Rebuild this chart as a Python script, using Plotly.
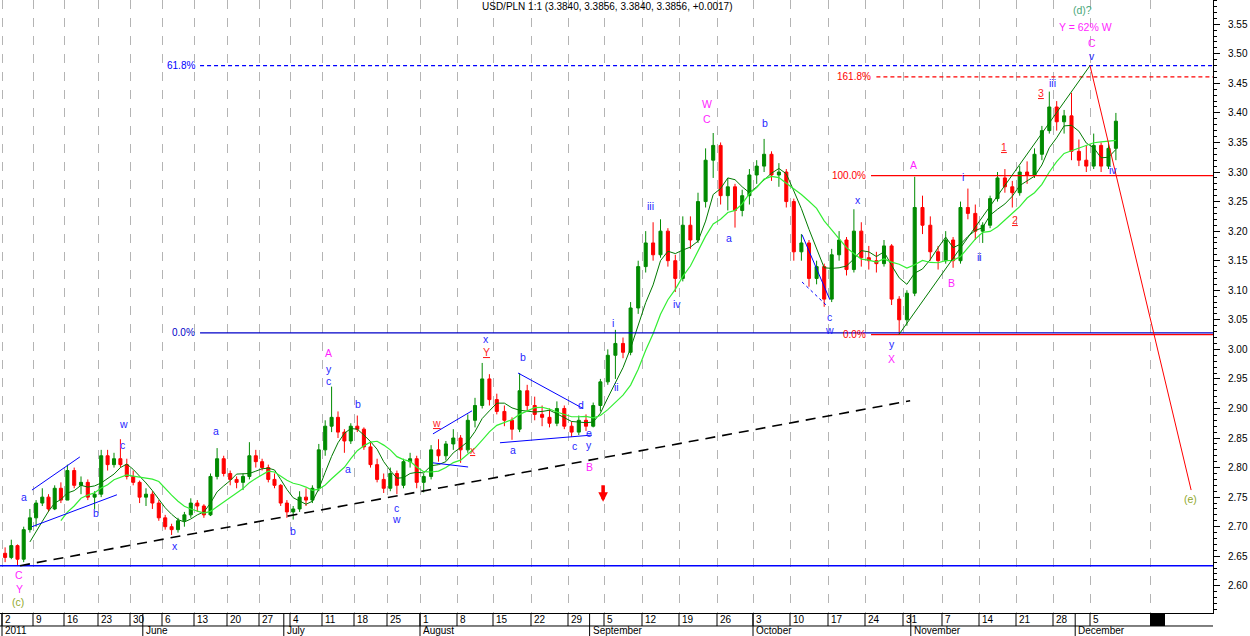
import pandas as pd
import plotly.graph_objects as go

# ---------------- data ----------------
week_mondays = ["2011-05-02", "2011-05-09", "2011-05-16", "2011-05-23", "2011-05-30",
                "2011-06-06", "2011-06-13", "2011-06-20", "2011-06-27", "2011-07-04",
                "2011-07-11", "2011-07-18", "2011-07-25", "2011-08-01", "2011-08-08",
                "2011-08-15", "2011-08-22", "2011-08-29", "2011-09-05", "2011-09-12",
                "2011-09-19", "2011-09-26", "2011-10-03", "2011-10-10", "2011-10-17",
                "2011-10-24", "2011-10-31", "2011-11-07", "2011-11-14", "2011-11-21",
                "2011-11-28", "2011-12-05"]
week_labels = ["2", "9", "16", "23", "30", "6", "13", "20", "27", "4", "11", "18", "25",
               "1", "8", "15", "22", "29", "5", "12", "19", "26", "3", "10", "17", "24",
               "31", "7", "14", "21", "28", "5"]
# intraday bars recorded per week (sets the width of each week on the bar axis)
bars_per_week = [31, 31, 34, 32, 32, 32, 33, 32, 31, 32, 32, 33, 33, 37, 36, 38, 37, 36,
                 38, 37, 38, 36, 37, 38, 37, 38, 39, 37, 37, 37, 37, 37]
month_starts = ["2011-05-02", "2011-06-01", "2011-07-01", "2011-08-01", "2011-09-01",
                "2011-10-03", "2011-11-01", "2011-12-01"]
month_labels = ["2011", "June", "July", "August", "September", "October", "November", "December"]

opens = [2.655, 2.648, 2.668, 2.645, 2.695, 2.715, 2.740, 2.750, 2.730, 2.765,
         2.745, 2.795, 2.770, 2.775, 2.750, 2.755, 2.820, 2.805, 2.815, 2.805,
         2.785, 2.775, 2.750, 2.755, 2.740, 2.715, 2.700, 2.695, 2.710, 2.720,
         2.740, 2.735, 2.720, 2.785, 2.815, 2.790, 2.780, 2.775, 2.785, 2.820,
         2.810, 2.800, 2.780, 2.770, 2.740, 2.725, 2.730, 2.750, 2.745, 2.765,
         2.830, 2.870, 2.885, 2.860, 2.845, 2.870, 2.865, 2.835, 2.805, 2.780,
         2.765, 2.790, 2.770, 2.810, 2.815, 2.775, 2.785, 2.830, 2.820, 2.840,
         2.850, 2.830, 2.880, 2.905, 2.950, 2.915, 2.895, 2.880, 2.865, 2.930,
         2.905, 2.890, 2.885, 2.875, 2.900, 2.870, 2.860, 2.880, 2.870, 2.905,
         2.945, 2.990, 3.010, 2.995, 3.070, 3.140, 3.180, 3.160, 3.200, 3.150,
         3.120, 3.210, 3.185, 3.250, 3.320, 3.345, 3.260, 3.275, 3.235, 3.260,
         3.295, 3.310, 3.330, 3.295, 3.300, 3.250, 3.165, 3.180, 3.120, 3.140,
         3.085, 3.160, 3.185, 3.135, 3.200, 3.155, 3.150, 3.145, 3.175, 3.085,
         3.050, 3.095, 3.240, 3.210, 3.165, 3.150, 3.185, 3.150, 3.240, 3.230,
         3.200, 3.210, 3.255, 3.290, 3.275, 3.265, 3.300, 3.295, 3.330, 3.370,
         3.410, 3.385, 3.395, 3.335, 3.320, 3.310, 3.345, 3.310, 3.340]
highs = [2.665, 2.678, 2.670, 2.700, 2.730, 2.745, 2.765, 2.755, 2.770, 2.775,
         2.805, 2.800, 2.785, 2.780, 2.760, 2.830, 2.830, 2.825, 2.848, 2.815,
         2.795, 2.778, 2.765, 2.760, 2.745, 2.720, 2.705, 2.715, 2.725, 2.748,
         2.745, 2.738, 2.790, 2.833, 2.820, 2.795, 2.785, 2.790, 2.843, 2.830,
         2.815, 2.805, 2.790, 2.772, 2.745, 2.735, 2.760, 2.765, 2.770, 2.840,
         2.880, 2.937, 2.895, 2.865, 2.875, 2.888, 2.868, 2.845, 2.815, 2.790,
         2.800, 2.795, 2.815, 2.825, 2.820, 2.790, 2.838, 2.848, 2.845, 2.865,
         2.855, 2.890, 2.918, 2.977, 2.958, 2.925, 2.905, 2.885, 2.960, 2.940,
         2.920, 2.905, 2.900, 2.912, 2.905, 2.878, 2.888, 2.890, 2.910, 2.950,
         3.000, 3.033, 3.020, 3.080, 3.150, 3.200, 3.215, 3.220, 3.205, 3.160,
         3.225, 3.225, 3.265, 3.340, 3.366, 3.350, 3.290, 3.280, 3.270, 3.305,
         3.320, 3.356, 3.335, 3.315, 3.305, 3.255, 3.195, 3.185, 3.150, 3.145,
         3.170, 3.200, 3.190, 3.237, 3.215, 3.175, 3.165, 3.185, 3.178, 3.090,
         3.100, 3.292, 3.260, 3.225, 3.175, 3.200, 3.190, 3.250, 3.272, 3.245,
         3.215, 3.260, 3.300, 3.305, 3.285, 3.310, 3.318, 3.340, 3.378, 3.436,
         3.420, 3.405, 3.434, 3.355, 3.345, 3.365, 3.350, 3.350, 3.400]
lows = [2.640, 2.645, 2.635, 2.640, 2.690, 2.700, 2.735, 2.725, 2.728, 2.740,
        2.745, 2.765, 2.755, 2.745, 2.730, 2.750, 2.795, 2.800, 2.800, 2.780,
        2.770, 2.740, 2.735, 2.730, 2.710, 2.695, 2.686, 2.690, 2.700, 2.715,
        2.725, 2.715, 2.718, 2.780, 2.785, 2.770, 2.765, 2.762, 2.780, 2.800,
        2.795, 2.775, 2.765, 2.735, 2.715, 2.712, 2.725, 2.735, 2.740, 2.760,
        2.820, 2.860, 2.850, 2.825, 2.840, 2.860, 2.830, 2.800, 2.775, 2.757,
        2.760, 2.755, 2.765, 2.800, 2.765, 2.758, 2.780, 2.810, 2.812, 2.830,
        2.808, 2.825, 2.868, 2.900, 2.905, 2.890, 2.870, 2.847, 2.860, 2.895,
        2.880, 2.870, 2.868, 2.870, 2.865, 2.852, 2.855, 2.862, 2.868, 2.895,
        2.940, 2.950, 2.985, 2.990, 3.060, 3.130, 3.150, 3.155, 3.140, 3.097,
        3.115, 3.170, 3.180, 3.240, 3.290, 3.245, 3.235, 3.206, 3.225, 3.245,
        3.280, 3.300, 3.285, 3.275, 3.240, 3.150, 3.150, 3.106, 3.110, 3.072,
        3.080, 3.150, 3.125, 3.130, 3.140, 3.135, 3.130, 3.140, 3.075, 3.025,
        3.040, 3.090, 3.195, 3.150, 3.135, 3.145, 3.138, 3.145, 3.220, 3.185,
        3.180, 3.205, 3.250, 3.265, 3.240, 3.260, 3.280, 3.290, 3.320, 3.365,
        3.370, 3.365, 3.320, 3.310, 3.300, 3.305, 3.300, 3.305, 3.320]
closes = [2.648, 2.668, 2.645, 2.695, 2.715, 2.740, 2.750, 2.730, 2.765, 2.745,
          2.795, 2.770, 2.775, 2.750, 2.755, 2.820, 2.805, 2.815, 2.805, 2.785,
          2.775, 2.750, 2.755, 2.740, 2.715, 2.700, 2.695, 2.710, 2.720, 2.740,
          2.735, 2.720, 2.785, 2.815, 2.790, 2.780, 2.775, 2.785, 2.820, 2.810,
          2.800, 2.780, 2.770, 2.740, 2.725, 2.730, 2.750, 2.745, 2.765, 2.830,
          2.870, 2.885, 2.860, 2.845, 2.870, 2.865, 2.835, 2.805, 2.780, 2.765,
          2.790, 2.770, 2.810, 2.815, 2.775, 2.785, 2.830, 2.820, 2.840, 2.850,
          2.830, 2.880, 2.905, 2.950, 2.915, 2.895, 2.880, 2.865, 2.930, 2.905,
          2.890, 2.885, 2.875, 2.900, 2.870, 2.860, 2.880, 2.870, 2.905, 2.945,
          2.990, 3.010, 2.995, 3.070, 3.140, 3.180, 3.160, 3.200, 3.150, 3.120,
          3.210, 3.185, 3.250, 3.320, 3.345, 3.260, 3.275, 3.235, 3.260, 3.295,
          3.310, 3.330, 3.295, 3.300, 3.250, 3.165, 3.180, 3.120, 3.140, 3.085,
          3.160, 3.185, 3.135, 3.200, 3.155, 3.150, 3.145, 3.175, 3.085, 3.050,
          3.095, 3.240, 3.210, 3.165, 3.150, 3.185, 3.150, 3.240, 3.230, 3.200,
          3.210, 3.255, 3.290, 3.275, 3.265, 3.300, 3.295, 3.330, 3.370, 3.410,
          3.385, 3.395, 3.335, 3.320, 3.310, 3.345, 3.310, 3.340, 3.386]

# Fibonacci / support levels: (label, price, start time, colour, dash)
levels = [
    ("61.8%", 3.480, "2011-06-13 22:00", "#0000ff", "4px,3px"),
    ("0.0%", 3.028, "2011-06-13 22:00", "#0000c8", "solid"),
    ("161.8%", 3.461, "2011-10-25 12:00", "#ff0000", "4px,3px"),
    ("100.0%", 3.294, "2011-10-24 19:00", "#ff0000", "solid"),
    ("0.0%", 3.025, "2011-10-24 19:00", "#ff0000", "solid"),
]
base_support = 2.634

# straight trend lines: (t0, p0, t1, p1, colour, dash, width)
trend_lines = [
    ("2011-05-04 22:00", 2.634, "2011-10-31 22:00", 2.913, "#000000", "10px,7px", 1.6),
    ("2011-05-06 20:00", 2.762, "2011-05-18 08:00", 2.818, "#0000ff", "solid", 1),
    ("2011-05-06 20:00", 2.700, "2011-05-25 23:00", 2.754, "#0000ff", "solid", 1),
    ("2011-08-02 18:00", 2.857, "2011-08-10 02:00", 2.896, "#0000ff", "solid", 1),
    ("2011-08-02 18:00", 2.808, "2011-08-09 13:00", 2.801, "#0000ff", "solid", 1),
    ("2011-08-18 07:00", 2.960, "2011-08-31 02:00", 2.900, "#0000ff", "solid", 1),
    ("2011-08-15 22:00", 2.842, "2011-09-01 08:00", 2.855, "#0000ff", "solid", 1),
    ("2011-10-11 14:00", 3.194, "2011-10-17 06:00", 3.084, "#0000ff", "solid", 1),
    ("2011-10-11 14:00", 3.114, "2011-10-17 00:00", 3.072, "#0000ff", "dot", 1),
    ("2011-10-28 11:00", 3.025, "2011-12-05 00:00", 3.480, "#007a00", "solid", 1),
    ("2011-12-05 00:00", 3.480, "2011-12-22 16:00", 2.762, "#ff0000", "solid", 1),
]

BLUE, MAG, RED, OLIVE = "#1f1fff", "#ff1fff", "#ff1f1f", "#8fa82a"
# wave labels: (text, time, price, colour)
wave_labels = [
    ("C", "2011-05-04 18:00", 2.618, MAG), ("Y", "2011-05-04 18:00", 2.595, MAG),
    ("(c)", "2011-05-04 14:00", 2.573, OLIVE),
    ("a", "2011-05-05 13:00", 2.750, BLUE),
    ("w", "2011-05-26 22:00", 2.874, BLUE), ("c", "2011-05-26 20:00", 2.838, BLUE),
    ("b", "2011-05-20 17:00", 2.723, BLUE),
    ("x", "2011-06-08 01:00", 2.668, BLUE),
    ("a", "2011-06-16 08:00", 2.862, BLUE),
    ("b", "2011-07-04 11:00", 2.693, BLUE),
    ("A", "2011-07-12 02:00", 2.994, MAG), ("y", "2011-07-12 02:00", 2.967, BLUE),
    ("c", "2011-07-12 02:00", 2.947, BLUE),
    ("b", "2011-07-18 14:00", 2.908, BLUE),
    ("a", "2011-07-15 01:00", 2.798, BLUE),
    ("c", "2011-07-26 09:00", 2.732, BLUE), ("w", "2011-07-26 09:00", 2.713, BLUE),
    ("<u>w</u>", "2011-08-03 04:00", 2.876, RED),
    ("<u>x</u>", "2011-08-10 05:00", 2.830, RED),
    ("x", "2011-08-12 01:00", 3.018, BLUE), ("<u>Y</u>", "2011-08-12 01:00", 2.996, RED),
    ("b", "2011-08-18 23:00", 2.987, BLUE),
    ("a", "2011-08-17 15:00", 2.830, BLUE),
    ("d", "2011-08-30 19:00", 2.906, BLUE),
    ("c", "2011-08-29 23:00", 2.837, BLUE),
    ("e", "2011-08-31 22:00", 2.859, BLUE), ("y", "2011-08-31 22:00", 2.838, BLUE),
    ("B", "2011-08-31 22:00", 2.801, MAG),
    ("i", "2011-09-06 04:00", 3.045, BLUE),
    ("ii", "2011-09-06 17:00", 2.937, BLUE),
    ("iii", "2011-09-13 02:00", 3.243, BLUE),
    ("iv", "2011-09-16 17:00", 3.077, BLUE),
    ("W", "2011-09-22 16:00", 3.415, MAG), ("C", "2011-09-22 16:00", 3.390, MAG),
    ("a", "2011-09-27 16:00", 3.189, BLUE),
    ("b", "2011-10-04 15:00", 3.383, BLUE),
    ("x", "2011-10-21 01:00", 3.253, BLUE),
    ("c", "2011-10-17 06:00", 3.055, BLUE), ("w", "2011-10-17 06:00", 3.033, BLUE),
    ("y", "2011-10-27 13:00", 3.009, BLUE), ("X", "2011-10-27 13:00", 2.984, MAG),
    ("A", "2011-11-01 07:00", 3.312, MAG),
    ("B", "2011-11-08 08:00", 3.113, MAG),
    ("i", "2011-11-09 20:00", 3.292, BLUE),
    ("ii", "2011-11-14 03:00", 3.157, BLUE),
    ("<u>1</u>", "2011-11-17 09:00", 3.343, RED),
    ("<u>2</u>", "2011-11-18 21:00", 3.219, RED),
    ("<u>3</u>", "2011-11-24 09:00", 3.434, RED),
    ("iii", "2011-11-25 21:00", 3.451, BLUE),
    ("iv", "2011-12-08 02:00", 3.304, BLUE),
    ("v", "2011-12-05 06:00", 3.497, BLUE),
    ("C", "2011-12-05 06:00", 3.519, MAG),
    ("Y = 62% W", "2011-12-02 11:00", 3.546, MAG),
    ("(d)?", "2011-12-02 01:00", 3.574, "#4aa87a"),
    ("(e)", "2011-12-22 14:00", 2.747, OLIVE),
]
arrow_point = ("2011-09-02 21:00", 2.742)
title_text = "USD/PLN 1:1 (3.3840, 3.3856, 3.3840, 3.3856, +0.0017)"

# ---------------- bar-axis mapping ----------------
FIRST_BAR = 2
X_MAX = 1213
mondays = pd.to_datetime(week_mondays)
week_start = [FIRST_BAR]
for w in bars_per_week:
    week_start.append(week_start[-1] + w)


def pos(t):
    t = pd.Timestamp(t)
    monday = t.normalize() - pd.Timedelta(days=t.weekday())
    k = (monday - mondays[0]).days // 7
    if k < len(bars_per_week):
        start, width = week_start[k], bars_per_week[k]
    else:
        width = bars_per_week[-1]
        start = week_start[-1] + (k - len(bars_per_week)) * width
    frac = t.weekday() + (t.hour + t.minute / 60) / 24
    return start + frac * width / 5


days = pd.bdate_range("2011-05-02", periods=len(closes))
xs = [pos(d + pd.Timedelta(hours=12)) for d in days]
close_s = pd.Series(closes)
ma_fast = close_s.rolling(5).mean()
ma_slow = close_s.rolling(10).mean()

fig = go.Figure()
fig.add_trace(go.Candlestick(
    x=xs, open=opens, high=highs, low=lows, close=closes,
    increasing=dict(line=dict(color="#008a00", width=1), fillcolor="#008a00"),
    decreasing=dict(line=dict(color="#ff0000", width=1), fillcolor="#ff0000"),
    whiskerwidth=0, showlegend=False, hoverinfo="skip"))
fig.add_trace(go.Scatter(x=xs, y=ma_fast, mode="lines",
                         line=dict(color="#007a00", width=1), showlegend=False, hoverinfo="skip"))
fig.add_trace(go.Scatter(x=xs, y=ma_slow, mode="lines",
                         line=dict(color="#33ee33", width=1.2), showlegend=False, hoverinfo="skip"))

shapes = []
# support line
shapes.append(dict(type="line", xref="x", yref="y", x0=0, x1=X_MAX, y0=base_support,
                   y1=base_support, line=dict(color="#0000ff", width=1.6)))
annotations = []
for label, price, t0, col, dash in levels:
    x0 = pos(t0)
    shapes.append(dict(type="line", xref="x", yref="y", x0=x0, x1=X_MAX, y0=price, y1=price,
                       line=dict(color=col, width=1.3, dash=dash)))
    annotations.append(dict(x=x0, y=price, xref="x", yref="y", text=label, showarrow=False,
                            xanchor="right", yanchor="middle", xshift=-3,
                            font=dict(family="Liberation Sans", size=10, color=col)))
for t0, p0, t1, p1, col, dash, wd in trend_lines:
    shapes.append(dict(type="line", xref="x", yref="y", x0=pos(t0), x1=pos(t1), y0=p0, y1=p1,
                       line=dict(color=col, width=wd, dash=dash)))

for text, t, price, col in wave_labels:
    annotations.append(dict(x=pos(t), y=price, xref="x", yref="y", text=text, showarrow=False,
                            xanchor="center", yanchor="middle",
                            font=dict(family="Liberation Sans", size=10.5, color=col)))
annotations.append(dict(x=pos(arrow_point[0]), y=arrow_point[1], xref="x", yref="y",
                        showarrow=True, ax=0, ay=-18, arrowcolor="#ff0000", arrowwidth=3.5,
                        arrowhead=2, arrowsize=0.55, text=""))
annotations.append(dict(x=0.5, y=1, xref="paper", yref="paper", text=title_text, showarrow=False,
                        xanchor="center", yanchor="top", yshift=1,
                        font=dict(family="Liberation Sans", size=10, color="#000000")))

# date axis rows (below the plot)
ROW1 = -0.0212
ROW2 = -0.0375
for m, lab in zip(week_mondays, week_labels):
    x = pos(m)
    shapes.append(dict(type="line", xref="x", yref="paper", x0=x, x1=x, y0=ROW1, y1=0,
                       line=dict(color="#000000", width=1)))
    annotations.append(dict(x=x, y=(ROW1) / 2, xref="x", yref="paper", text=lab, showarrow=False,
                            xanchor="left", yanchor="middle", xshift=1,
                            font=dict(family="Liberation Sans", size=10, color="#000000")))
for m, lab in zip(month_starts, month_labels):
    x = pos(m)
    shapes.append(dict(type="line", xref="x", yref="paper", x0=x, x1=x, y0=ROW2, y1=0,
                       line=dict(color="#000000", width=1)))
    annotations.append(dict(x=x, y=(ROW1 + ROW2) / 2, xref="x", yref="paper", text=lab,
                            showarrow=False, xanchor="left", yanchor="middle", xshift=1,
                            font=dict(family="Liberation Sans", size=10, color="#000000")))
shapes.append(dict(type="line", xref="paper", yref="paper", x0=0, x1=1, y0=ROW1, y1=ROW1,
                   line=dict(color="#000000", width=1)))
FUTURE_GRID = 1150
shapes.append(dict(type="rect", xref="x", yref="paper", x0=FUTURE_GRID, x1=FUTURE_GRID + 15,
                   y0=ROW1, y1=0, fillcolor="#000000", line=dict(width=0)))

fig.update_layout(
    width=1250, height=636, margin=dict(l=0, r=37, t=0, b=23),
    paper_bgcolor="white", plot_bgcolor="white",
    shapes=shapes, annotations=annotations, showlegend=False,
    xaxis=dict(range=[0, X_MAX], tickvals=[pos(m) for m in week_mondays] + [FUTURE_GRID],
               showticklabels=False, ticks="", showgrid=True, gridcolor="#b4b4b4",
               griddash="dash", gridwidth=1, zeroline=False, showline=True,
               linecolor="#000000", linewidth=1, rangeslider=dict(visible=False),
               fixedrange=True),
    yaxis=dict(range=[2.554, 3.591], side="right", dtick=0.05, tick0=2.6, tickformat=".2f",
               ticks="outside", ticklen=6, tickcolor="#000000", showgrid=False,
               zeroline=False, showline=True, linecolor="#000000", linewidth=1,
               ticklabelstandoff=6,
               minor=dict(dtick=0.01, ticks="outside", ticklen=3, tickcolor="#000000"),
               tickfont=dict(family="Liberation Sans", size=10, color="#000000"),
               fixedrange=True),
)
fig.write_html("out.html",
               post_script="document.body.style.margin='0';document.body.style.overflow='hidden';",
               config={"displayModeBar": False})
